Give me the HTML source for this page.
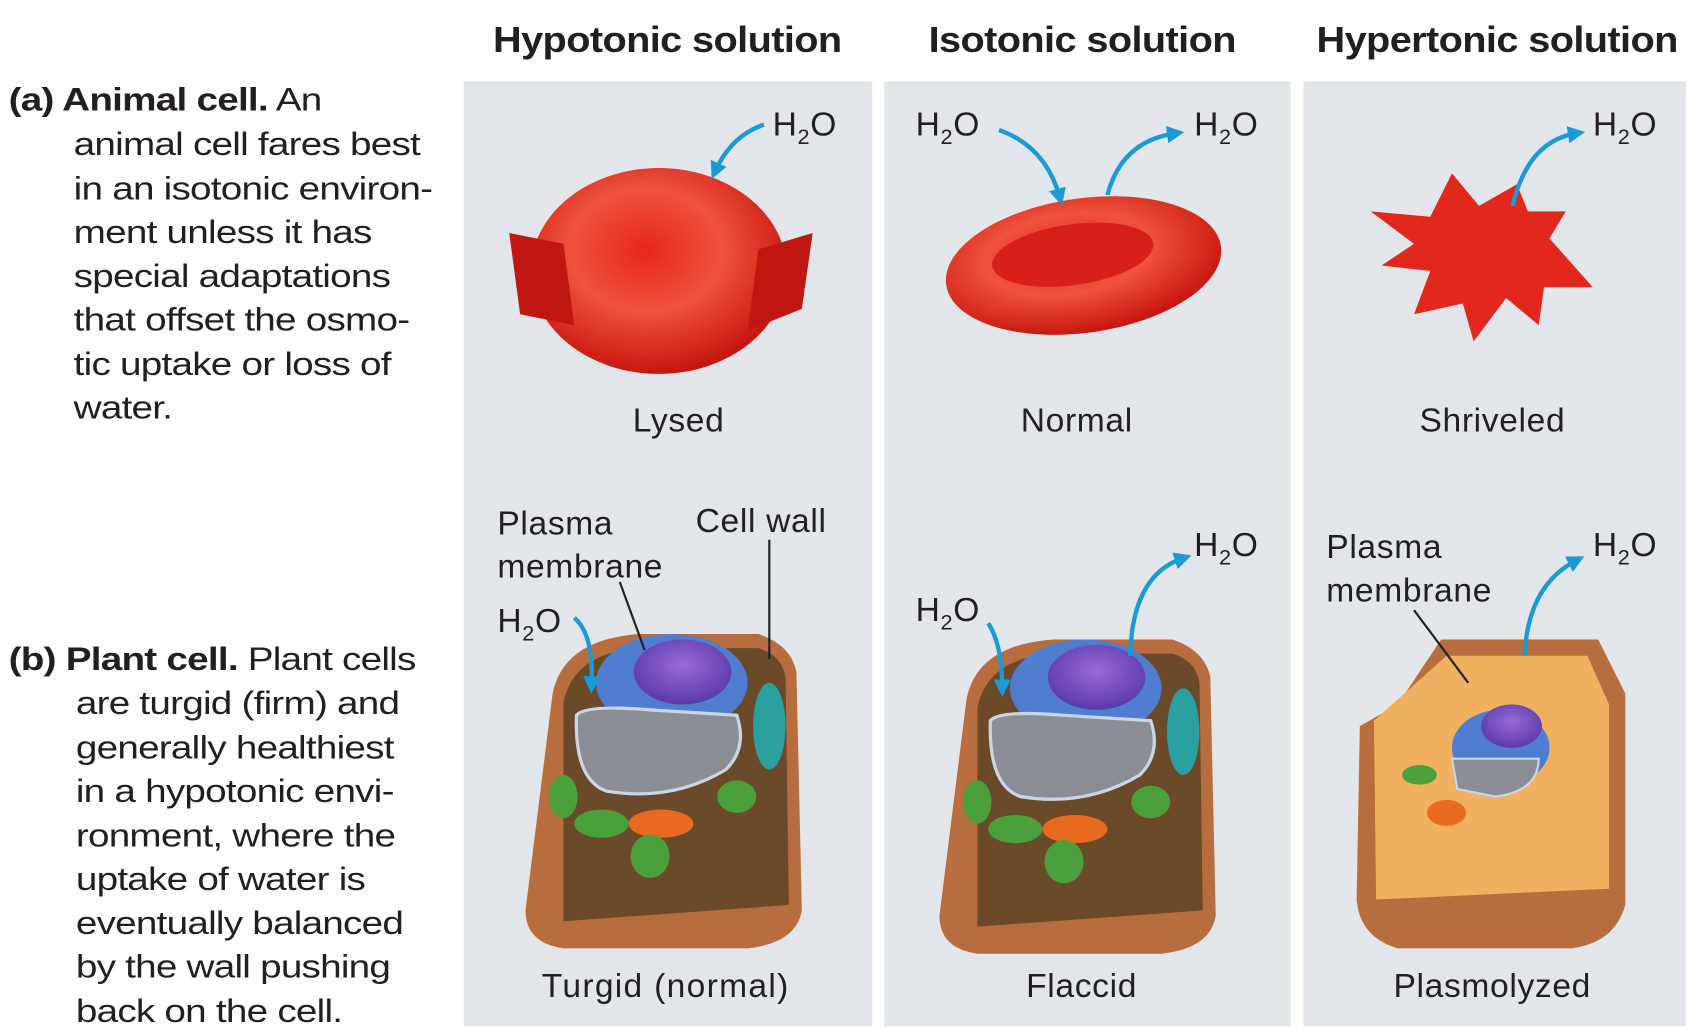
<!DOCTYPE html>
<html><head><meta charset="utf-8"><style>
html,body{margin:0;padding:0;background:#fff;width:1699px;height:1035px;overflow:hidden}
#w{position:absolute;left:0;top:0;width:1568px;height:955px;transform:scale(1.08355,1.0838);transform-origin:0 0;font-family:"Liberation Sans",sans-serif;color:#231f20}
.p{position:absolute;background:#e2e5e9;top:75px;height:872px}
.h{position:absolute;top:18px;font-size:33px;font-weight:bold;letter-spacing:-0.5px;transform:scaleX(1.11);transform-origin:0 0;white-space:nowrap}
.t{position:absolute;font-size:30px;line-height:40.5px;letter-spacing:-0.6px;white-space:nowrap;transform:scaleX(1.19);transform-origin:0 0}
.l{position:absolute;font-size:31px;letter-spacing:0.6px;white-space:nowrap}
sub{font-size:20px;vertical-align:-8px}
svg{position:absolute;left:0;top:0}
</style></head><body><div id="w">
<div class="p" style="left:428px;width:377px"></div>
<div class="p" style="left:816px;width:375px"></div>
<div class="p" style="left:1203px;width:353px"></div>
<div class="h" style="left:455px">Hypotonic solution</div>
<div class="h" style="left:857px">Isotonic solution</div>
<div class="h" style="left:1215px">Hypertonic solution</div>
<div class="t" style="left:8px;top:73px"><b>(a) Animal cell.</b> An</div>
<div class="t" style="left:68px;top:114px">animal cell fares best<br>in an isotonic environ-<br>ment unless it has<br>special adaptations<br>that offset the osmo-<br>tic uptake or loss of<br>water.</div>
<div class="t" style="left:8px;top:589px"><b>(b) Plant cell.</b> Plant cells</div>
<div class="t" style="left:70px;top:630px">are turgid (firm) and<br>generally healthiest<br>in a hypotonic envi-<br>ronment, where the<br>uptake of water is<br>eventually balanced<br>by the wall pushing<br>back on the cell.</div>
<svg width="1568" height="955">
<defs>
<radialGradient id="rb" cx="0.45" cy="0.4" r="0.6"><stop offset="0" stop-color="#e8281c"/><stop offset="0.5" stop-color="#f0523e"/><stop offset="1" stop-color="#c8160e"/></radialGradient>
<radialGradient id="nu" cx="0.5" cy="0.4" r="0.6"><stop offset="0" stop-color="#9a6ad8"/><stop offset="1" stop-color="#5a3aa8"/></radialGradient>
<marker id="ar" viewBox="0 0 10 10" refX="5" refY="5" markerWidth="4" markerHeight="4" orient="auto"><path d="M0,0L10,5L0,10z" fill="#1a9ad6"/></marker>
</defs>
<ellipse cx="608" cy="250" rx="118" ry="95" fill="url(#rb)"/>
<path d="M470,215L520,225L530,300L480,290z M750,215L700,230L690,305L740,285z" fill="#c01810"/>
<ellipse cx="1000" cy="245" rx="128" ry="62" fill="url(#rb)" transform="rotate(-8 1000 245)"/>
<ellipse cx="990" cy="235" rx="75" ry="28" fill="#d8201a" transform="rotate(-8 990 235)"/>
<path d="M1265,195L1320,200L1340,160L1365,190L1400,170L1410,195L1445,195L1430,220L1470,265L1425,265L1420,300L1390,275L1360,315L1350,280L1305,290L1320,250L1275,245L1305,225z" fill="#e2281c"/>
<g id="pc">
<path d="M510,640Q520,590 590,585L700,585Q730,595 735,620L740,840Q735,870 690,875L520,875Q485,870 485,840z" fill="#b86d3e"/>
<path d="M520,648Q530,600 595,598L700,598Q722,605 725,625L728,835L520,850z" fill="#6b4a2a"/>
<ellipse cx="620" cy="630" rx="70" ry="45" fill="#4f7ed0"/>
<ellipse cx="630" cy="620" rx="45" ry="30" fill="url(#nu)"/>
<path d="M532,660Q540,650 600,655L680,660Q690,690 670,710Q620,740 560,730Q530,720 532,660z" fill="#8a8e94" stroke="#c8d6e8" stroke-width="3"/>
<ellipse cx="520" cy="735" rx="13" ry="20" fill="#4aa03a"/>
<ellipse cx="555" cy="760" rx="25" ry="13" fill="#4aa03a"/>
<ellipse cx="610" cy="760" rx="30" ry="13" fill="#e86a20"/>
<ellipse cx="600" cy="790" rx="18" ry="20" fill="#4aa03a"/>
<ellipse cx="680" cy="735" rx="18" ry="15" fill="#4aa03a"/>
<ellipse cx="710" cy="670" rx="15" ry="40" fill="#2aa0a0"/>
</g>
<use href="#pc" transform="translate(382,5)"/>
<path d="M1290,650L1330,590L1475,590L1500,640L1500,835Q1490,870 1450,875L1290,875Q1255,865 1252,830L1255,670z" fill="#b86d3e"/>
<path d="M1268,665L1335,605L1465,605L1485,650L1485,820L1270,830z" fill="#f0b060"/>
<ellipse cx="1385" cy="690" rx="45" ry="35" fill="#4f7ed0"/>
<ellipse cx="1395" cy="670" rx="28" ry="20" fill="url(#nu)"/>
<path d="M1340,700L1420,700Q1420,730 1380,735L1345,728z" fill="#8a8e94" stroke="#c8d6e8" stroke-width="2"/>
<ellipse cx="1310" cy="715" rx="16" ry="9" fill="#4aa03a"/>
<ellipse cx="1335" cy="750" rx="18" ry="12" fill="#e86a20"/>
<g fill="none" stroke="#1a9ad6" stroke-width="4" marker-end="url(#ar)">
<path d="M705,115Q675,125 660,158"/>
<path d="M922,120Q965,135 978,182"/>
<path d="M1022,180Q1035,130 1085,123"/>
<path d="M1396,190Q1410,130 1455,123"/>
<path d="M530,570Q548,585 546,632"/>
<path d="M912,575Q925,595 925,635"/>
<path d="M1043,605Q1045,530 1092,515"/>
<path d="M1407,605Q1410,540 1455,517"/>
</g>
<g stroke="#222" stroke-width="2"><line x1="572" y1="537" x2="595" y2="600"/><line x1="710" y1="498" x2="710" y2="608"/><line x1="1305" y1="563" x2="1355" y2="630"/></g>
</svg>
<div class="l" style="left:713px;top:97px">H<sub>2</sub>O</div>
<div class="l" style="left:845px;top:97px">H<sub>2</sub>O</div>
<div class="l" style="left:1102px;top:97px">H<sub>2</sub>O</div>
<div class="l" style="left:1470px;top:97px">H<sub>2</sub>O</div>
<div class="l" style="left:584px;top:370px">Lysed</div>
<div class="l" style="left:942px;top:370px">Normal</div>
<div class="l" style="left:1310px;top:370px">Shriveled</div>
<div class="l" style="left:459px;top:463px;line-height:40px">Plasma<br>membrane</div>
<div class="l" style="left:642px;top:463px">Cell wall</div>
<div class="l" style="left:459px;top:555px">H<sub>2</sub>O</div>
<div class="l" style="left:845px;top:545px">H<sub>2</sub>O</div>
<div class="l" style="left:1102px;top:485px">H<sub>2</sub>O</div>
<div class="l" style="left:1470px;top:485px">H<sub>2</sub>O</div>
<div class="l" style="left:1224px;top:485px;line-height:40px">Plasma<br>membrane</div>
<div class="l" style="left:500px;top:892px;letter-spacing:1.2px">Turgid (normal)</div>
<div class="l" style="left:947px;top:892px">Flaccid</div>
<div class="l" style="left:1286px;top:892px">Plasmolyzed</div>
</div></body></html>
